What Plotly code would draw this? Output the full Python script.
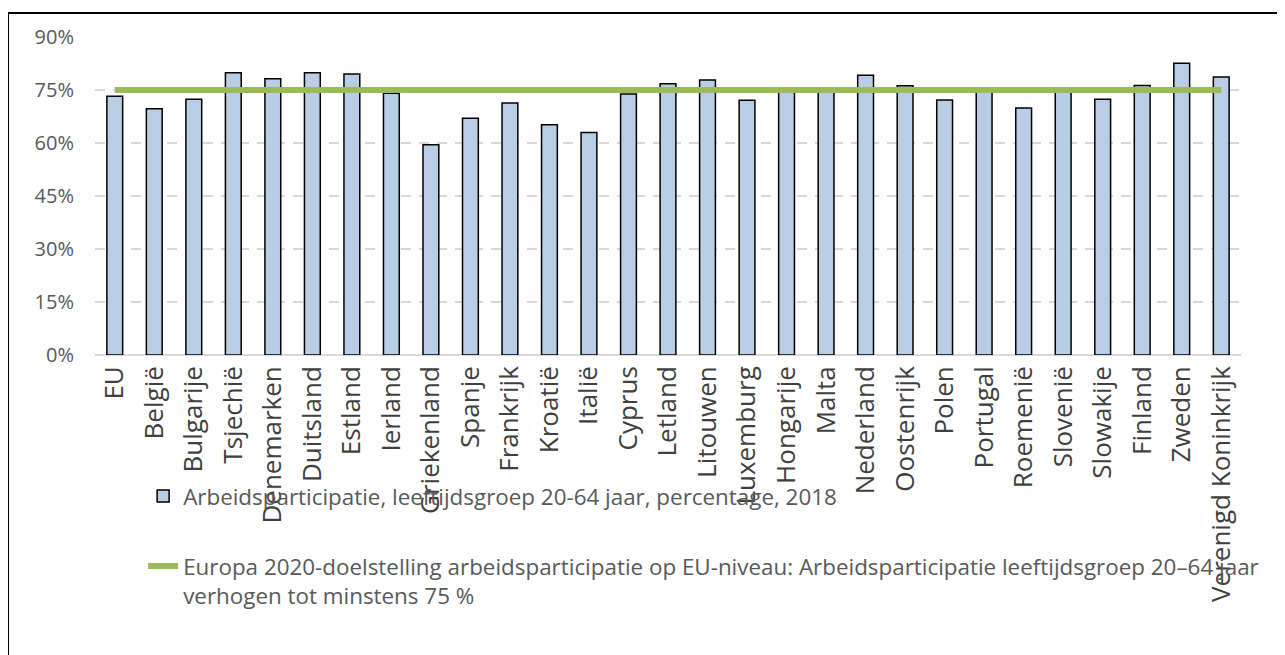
import plotly.graph_objects as go

# --- Data ---
countries = [
    "EU", "België", "Bulgarije", "Tsjechië", "Denemarken", "Duitsland", "Estland",
    "Ierland", "Griekenland", "Spanje", "Frankrijk", "Kroatië", "Italië", "Cyprus",
    "Letland", "Litouwen", "Luxemburg", "Hongarije", "Malta", "Nederland",
    "Oostenrijk", "Polen", "Portugal", "Roemenië", "Slovenië", "Slowakije",
    "Finland", "Zweden", "Verenigd Koninkrijk",
]
participation = [
    73.2, 69.7, 72.4, 79.9, 78.2, 79.9, 79.5,
    74.1, 59.5, 67.0, 71.3, 65.2, 63.0, 73.9,
    76.8, 77.8, 72.1, 74.4, 75.5, 79.2,
    76.2, 72.2, 75.4, 69.9, 75.4, 72.4,
    76.3, 82.6, 78.7,
]
target = [75] * len(countries)
y_ticks = [0, 15, 30, 45, 60, 75, 90]
y_tick_labels = ["0%", "15%", "30%", "45%", "60%", "75%", "90%"]

bar_name = "Arbeidsparticipatie, leeftijdsgroep 20-64 jaar, percentage, 2018"
line_name = ("Europa 2020-doelstelling arbeidsparticipatie op EU-niveau: "
             "Arbeidsparticipatie leeftijdsgroep 20–64 jaar<br>verhogen tot minstens 75 %")

# --- Colours ---
BAR_COL = "#B9CDE5"
LINE_COL = "#9BBB59"
TEXT_COL = "#595959"
GRID_COL = "#D9D9D9"
FONT = "Open Sans"

fig = go.Figure()
fig.add_trace(
    go.Bar(
        x=countries, y=participation, name=bar_name,
        marker=dict(color=BAR_COL, line=dict(color="black", width=1.5)),
        width=0.4, legendgroup="a",
    )
)
fig.add_trace(
    go.Scatter(
        x=countries, y=target, name=line_name, mode="lines",
        line=dict(color=LINE_COL, width=6), legendgroup="b",
    )
)

# page has an 8px body margin, so the figure is 8px smaller than the window
fig.update_layout(
    width=1277, height=647,
    paper_bgcolor="white", plot_bgcolor="white",
    font=dict(family=FONT, color=TEXT_COL, size=20),
    margin=dict(l=87, r=44, t=29, b=300),
    showlegend=True,
    legend=dict(
        x=0.042, y=-0.377, xanchor="left", yanchor="top",
        traceorder="grouped", tracegroupgap=38, valign="top",
        font=dict(family=FONT, size=22.4, color=TEXT_COL),
        bgcolor="rgba(0,0,0,0)",
    ),
)
fig.update_yaxes(
    range=[0, 90], tickvals=y_ticks, ticktext=y_tick_labels,
    showgrid=True, gridcolor=GRID_COL, griddash="10px,8px", gridwidth=1.5,
    zeroline=True, zerolinecolor=GRID_COL, zerolinewidth=1.5,
    ticklabelstandoff=20, tickfont=dict(size=20, color=TEXT_COL),
)
fig.update_xaxes(
    tickangle=-90, showline=False, ticklabelstandoff=5,
    tickfont=dict(size=26, color="#404040"),
)

# Outer frame (top and left edges visible, like the cropped source)
fig.add_shape(
    type="rect", xref="paper", yref="paper",
    x0=-0.0759, x1=1.3, y0=-1.5, y1=1.0756,
    line=dict(color="black", width=2), layer="below",
)

fig.write_html("out.html")
